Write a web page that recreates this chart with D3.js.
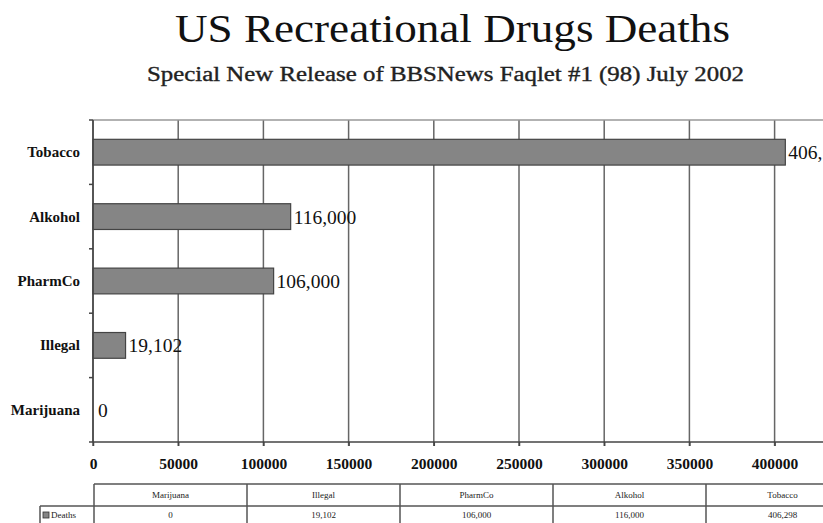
<!DOCTYPE html>
<html><head><meta charset="utf-8">
<script src="https://cdn.jsdelivr.net/npm/d3@7"></script>
<style>
html,body{margin:0;padding:0;background:#fff;overflow:hidden;}
svg{display:block;}
</style></head>
<body>
<script>
const categories = ["Tobacco","Alkohol","PharmCo","Illegal","Marijuana"];
const deaths = [406298,116000,106000,19102,0];
const barLabels = ["406,298","116,000","106,000","19,102","0"];
const tableCategories = ["Marijuana","Illegal","PharmCo","Alkohol","Tobacco"];
const tableValues = ["0","19,102","106,000","116,000","406,298"];
const xTicks = [0,50000,100000,150000,200000,250000,300000,350000,400000];
const seriesName = "Deaths";

(function(){
const W = 823, H = 523;
const svg = d3.select("body").append("svg").attr("width",W).attr("height",H);
const serif = "'Liberation Serif','Times New Roman',serif";

svg.append("text").attr("x",175).attr("y",42)
  .attr("font-family",serif).attr("font-size",41).attr("fill","#111")
  .attr("textLength",555).attr("lengthAdjust","spacingAndGlyphs")
  .text("US Recreational Drugs Deaths");
svg.append("text").attr("x",147).attr("y",81)
  .attr("font-family",serif).attr("font-size",20).attr("fill","#222")
  .attr("stroke","#222").attr("stroke-width",0.35)
  .attr("textLength",597).attr("lengthAdjust","spacingAndGlyphs")
  .text("Special New Release of BBSNews Faqlet #1 (98) July 2002");

const pLeft = 93, pTop = 120, pBottom = 442;
const x = d3.scaleLinear().domain([0,450000]).range([pLeft, pLeft+9*85.2]);
const y = d3.scaleBand().domain(categories).range([pTop,pBottom]).paddingInner(0.6).paddingOuter(0.3);
const yb = d3.scaleBand().domain(categories).range([pTop,pBottom]);

const g = svg.append("g");
g.selectAll("line.grid").data(xTicks.concat([450000])).join("line")
  .attr("x1",d=>x(d)).attr("x2",d=>x(d)).attr("y1",pTop).attr("y2",pBottom+4)
  .attr("stroke","#666").attr("stroke-width",1.5);
g.append("line").attr("x1",pLeft).attr("x2",W).attr("y1",pTop).attr("y2",pTop)
  .attr("stroke","#999").attr("stroke-width",1.5);

g.selectAll("rect.bar").data(categories).join("rect")
  .attr("x",x(0)).attr("y",d=>y(d)).attr("height",y.bandwidth())
  .attr("width",(d,i)=>x(deaths[i])-x(0))
  .attr("fill","#858585").attr("stroke","#444").attr("stroke-width",1.2);

g.selectAll("text.val").data(categories).join("text")
  .attr("x",(d,i)=>x(deaths[i])+ (deaths[i]===0?5:3))
  .attr("y",d=>y(d)+y.bandwidth()/2+7)
  .attr("font-family",serif).attr("font-size",19.5).attr("fill","#111")
  .text((d,i)=>barLabels[i]);

const yAxis = g.append("g").attr("transform",`translate(${pLeft},0)`);
yAxis.append("line").attr("x1",0).attr("x2",0).attr("y1",pTop).attr("y2",pBottom)
  .attr("stroke","#444").attr("stroke-width",1.5);
yAxis.selectAll("line.t").data(d3.range(categories.length+1)).join("line")
  .attr("x1",-4).attr("x2",0).attr("y1",i=>pTop+i*yb.step()).attr("y2",i=>pTop+i*yb.step())
  .attr("stroke","#444").attr("stroke-width",1.5);
yAxis.selectAll("text").data(categories).join("text")
  .attr("x",-13).attr("y",d=>yb(d)+yb.bandwidth()/2+5)
  .attr("text-anchor","end").attr("font-family",serif).attr("font-weight","bold")
  .attr("font-size",15).attr("fill","#111").text(d=>d);

const xAxis = d3.axisBottom(x).tickValues(xTicks).tickSize(4).tickFormat(d3.format("d"));
const xg = g.append("g").attr("transform",`translate(0,${pBottom})`).call(xAxis);
xg.select(".domain").attr("d",`M${pLeft},0H${W}`).attr("stroke","#444").attr("stroke-width",1.5);
xg.selectAll(".tick line").attr("stroke","#444").attr("stroke-width",1.5);
xg.selectAll(".tick text").attr("font-family",serif).attr("font-weight","bold")
  .attr("font-size",15.5).attr("fill","#111").attr("y",16);

const tTop = 484, tMid = 506, tBot = 530;
const colW = 153;
const tg = svg.append("g");
const cx = i => pLeft + 1 + i*colW;
tg.selectAll("line.v").data(d3.range(tableCategories.length+1)).join("line")
  .attr("x1",i=>cx(i)).attr("x2",i=>cx(i)).attr("y1",tTop).attr("y2",tBot)
  .attr("stroke","#555").attr("stroke-width",1.5);
tg.append("line").attr("x1",cx(0)).attr("x2",W).attr("y1",tTop).attr("y2",tTop).attr("stroke","#555").attr("stroke-width",1.5);
tg.append("line").attr("x1",40).attr("x2",W).attr("y1",tMid).attr("y2",tMid).attr("stroke","#555").attr("stroke-width",1.5);
tg.append("line").attr("x1",40).attr("x2",40).attr("y1",tMid).attr("y2",tBot).attr("stroke","#555").attr("stroke-width",1.5);
tg.selectAll("text.h").data(tableCategories).join("text")
  .attr("x",(d,i)=>cx(i)+colW/2).attr("y",tTop+14).attr("text-anchor","middle")
  .attr("font-family",serif).attr("font-size",9).attr("fill","#222").text(d=>d);
tg.selectAll("text.v").data(tableValues).join("text")
  .attr("x",(d,i)=>cx(i)+colW/2).attr("y",tMid+12).attr("text-anchor","middle")
  .attr("font-family",serif).attr("font-size",9).attr("fill","#222").text(d=>d);
tg.append("rect").attr("x",43).attr("y",tMid+6).attr("width",6).attr("height",6)
  .attr("fill","#858585").attr("stroke","#333").attr("stroke-width",0.8);
tg.append("text").attr("x",51).attr("y",tMid+12).attr("font-family",serif)
  .attr("font-size",9).attr("fill","#222").text(seriesName);
})();
</script>
</body></html>
